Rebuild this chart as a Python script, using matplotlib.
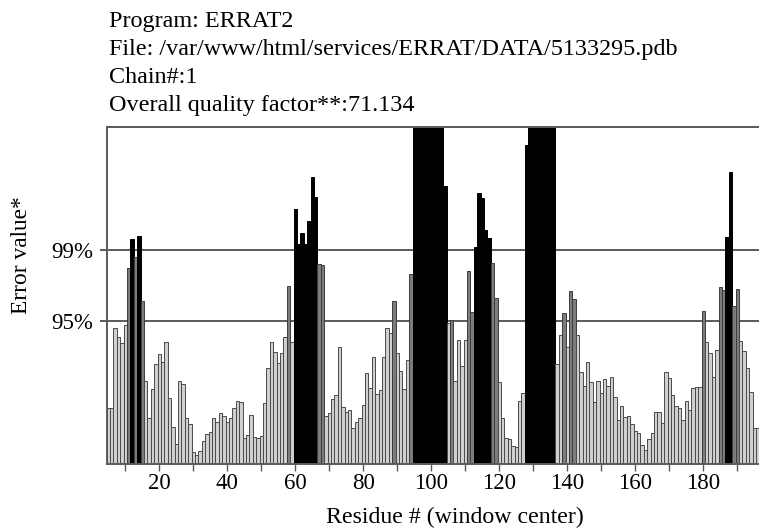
import matplotlib
matplotlib.use("Agg")
import matplotlib.pyplot as plt

# ---- data ----
first_residue = 5
errors = [
    4.46, 4.46, 10.87, 10.15, 9.61, 11.08, 15.67, 17.96, 16.55, 18.2,      # 5-14
    13.0, 6.6, 3.61, 5.96, 7.93, 8.73, 8.09, 9.69, 5.27, 2.95,             # 15-24
    1.53, 6.6, 6.33, 3.67, 3.19, 0.95, 0.68, 1.0, 1.8, 2.33,               # 25-34
    2.55, 3.64, 3.29, 4.01, 3.8, 3.29, 3.67, 4.47, 5.0, 4.89,              # 35-44
    2.01, 2.28, 3.88, 2.15, 2.01, 2.23, 4.81, 7.61, 9.69, 8.95,            # 45-54
    8.01, 8.81, 10.15, 14.23, 9.69, 20.34, 17.56, 18.42, 17.56, 19.42,     # 55-64
    22.94, 21.3, 15.96, 15.85, 3.8, 4.07, 5.13, 5.45, 9.35, 4.55,          # 65-74
    4.09, 4.28, 2.81, 3.29, 3.61, 4.68, 7.21, 6.01, 8.49, 5.53,            # 75-84
    5.88, 8.49, 10.81, 10.47, 13.0, 8.81, 7.43, 5.93, 8.28, 15.16,         # 85-94
    27.0, 27.0, 27.0, 27.0, 27.0, 27.0, 27.0, 27.0, 27.0, 22.2,            # 95-104
    11.21, 11.5, 6.63, 9.88, 7.8, 9.88, 15.4, 12.15, 17.35, 21.67,         # 105-114
    21.21, 18.68, 18.01, 16.07, 13.27, 6.55, 3.61, 2.07, 1.93, 1.43,       # 115-124
    1.35, 5.03, 5.67, 25.48, 27.0, 27.0, 27.0, 27.0, 27.0, 27.0,           # 125-134
    27.0, 27.0, 7.96, 10.28, 12.01, 9.29, 13.83, 13.13, 10.28, 7.29,       # 135-144
    6.2, 8.15, 6.55, 4.95, 6.63, 5.67, 6.73, 6.2, 6.89, 5.29,              # 145-154
    3.48, 4.63, 3.69, 3.8, 3.16, 2.63, 2.44, 1.48, 1.08, 1.94,             # 155-164
    2.46, 4.14, 4.14, 3.22, 7.34, 6.82, 5.48, 4.56, 4.44, 3.48,            # 165-174
    5.0, 4.28, 6.02, 6.12, 6.14, 12.22, 9.7, 8.82, 6.94, 9.08,             # 175-184
    14.14, 13.88, 18.14, 23.34, 12.6, 13.98, 9.8, 9.02, 7.62, 5.74,        # 185-194
    2.82, 2.82,                                                            # 195-196
]
residues = list(range(first_residue, first_residue + len(errors)))

limit95 = 11.4
limit99 = 17.1
y_labels = ["95%", "99%"]
x_tick_values = list(range(10, 200, 10))
x_tick_labels = [str(v) if v % 20 == 0 else "" for v in x_tick_values]

header_lines = [
    "Program: ERRAT2",
    "File: /var/www/html/services/ERRAT/DATA/5133295.pdb",
    "Chain#:1",
    "Overall quality factor**:71.134",
]

# ---- styling ----
serif = ["Liberation Serif", "DejaVu Serif"]
plt.rcParams["font.family"] = serif
W, H = 759, 530
fig = plt.figure(figsize=(W / 100, H / 100), dpi=100)
ax_left, ax_right, ax_top, ax_bottom = 107, 759, 127.2, 463.5
ax = fig.add_axes([ax_left / W, (H - ax_bottom) / H,
                   (ax_right - ax_left) / W, (ax_bottom - ax_top) / H])

fills, edges = [], []
for v in errors:
    if v > limit99:
        fills.append("#000000"); edges.append("#000000")
    elif v > limit95:
        fills.append("#7c7c7c"); edges.append("#3c3c3c")
    else:
        fills.append("#cfcfcf"); edges.append("#4a4a4a")

ax.bar(residues, errors, width=1.0, color=fills, edgecolor=edges,
       linewidth=0.7, zorder=2)
for lim in (limit95, limit99):
    ax.axhline(lim, color="#5a5a5a", lw=1.4, zorder=1)

ax.set_xlim(4.62, 196.4)
ax.set_ylim(0, 26.9)
ax.set_yticks([limit95, limit99])
ax.set_yticklabels(y_labels, fontsize=16.5)
ax.set_xticks(x_tick_values)
ax.set_xticklabels(x_tick_labels, fontsize=16.5)
ax.tick_params(axis="x", direction="out", length=5, width=1.0,
               color="#5a5a5a", pad=2)
ax.tick_params(axis="y", direction="out", length=5, width=1.4,
               color="#5a5a5a", pad=5)
for side in ("left", "top", "bottom"):
    ax.spines[side].set_color("#5a5a5a")
    ax.spines[side].set_linewidth(1.4)
ax.spines["right"].set_visible(False)

for i, line in enumerate(header_lines):
    fig.text(109 / W, 1 - (21 + 28.3 * i) / H, line, fontsize=17.4,
             va="center", ha="left")

fig.text(455 / W, 1 - 517 / H, "Residue # (window center)", fontsize=17.2,
         ha="center", va="center")
fig.text(22 / W, 1 - 255 / H, "Error value*", fontsize=16.8, rotation=90,
         ha="center", va="center")

fig.savefig("out.png", dpi=100)
